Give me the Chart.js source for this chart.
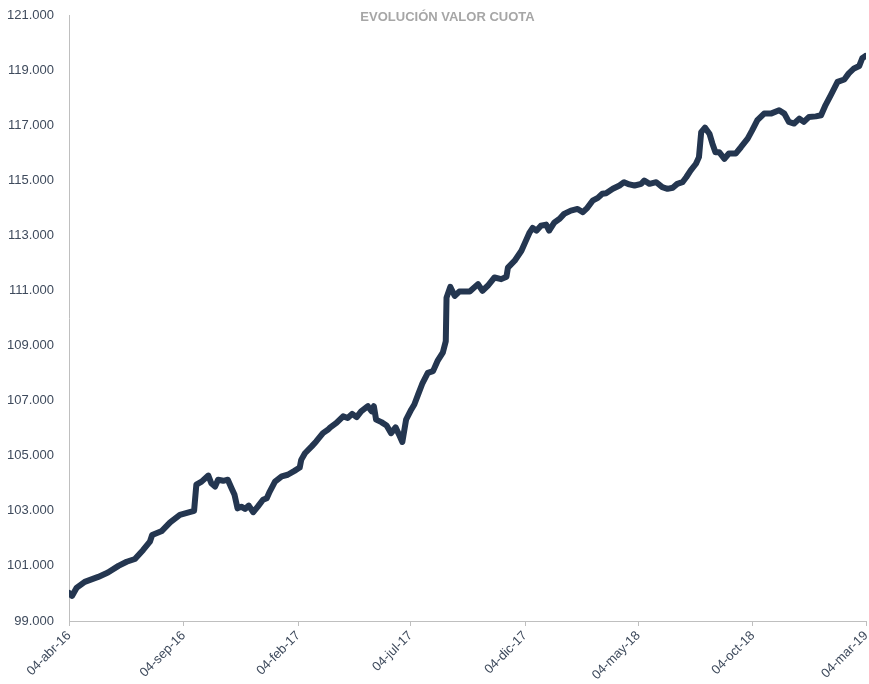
<!DOCTYPE html>
<html lang="es">
<head>
    <meta charset="UTF-8">
    <title>Evolución Valor Cuota</title>
    <script src="https://cdn.jsdelivr.net/npm/chart.js"></script>
    <style>
        html, body {
            margin: 0;
            padding: 0;
            background: #ffffff;
        }
        .wrap {
            width: 869px;
            height: 684px;
            position: relative;
        }
    </style>
</head>
<body>

<div class="wrap">
    <canvas id="cuotaChart"></canvas>
</div>

<script>
    // dias desde el 04-abr-16
    const dias = [
        0, 4, 10, 21, 39, 52, 66, 77, 88, 99, 108, 111, 124, 135, 148, 161, 167,
        170, 177, 186, 190, 195, 199, 206, 212, 217, 221, 225, 230, 235, 240, 246,
        252, 259, 264, 268, 275, 284, 292, 301, 308, 310, 315, 324, 330, 339, 346,
        348, 357, 366, 372, 378, 384, 390, 399, 404, 407, 410, 417, 424, 430, 436,
        441, 445, 450, 457, 461, 466, 472, 479, 486, 492, 499, 503, 504, 509, 515,
        521, 535, 546, 552, 559, 568, 577, 584, 586, 595, 604, 610, 615, 619, 624,
        630, 637, 641, 648, 655, 661, 670, 679, 686, 692, 699, 706, 712, 717, 726,
        735, 741, 748, 755, 764, 768, 775, 784, 792, 799, 806, 812, 819, 824, 830,
        837, 841, 844, 849, 855, 859, 863, 868, 875, 881, 890, 897, 906, 912, 919,
        928, 937, 948, 955, 961, 968, 975, 981, 988, 997, 1004, 1010, 1017, 1026,
        1035, 1041, 1048, 1055, 1059, 1063
    ];

    const valores = [
        100.02, 99.91, 100.20, 100.42, 100.60, 100.76, 101.00, 101.15, 101.25, 101.58, 101.88, 102.12, 102.27, 102.58, 102.85, 102.95, 103.00,
        103.95, 104.06, 104.28, 104.00, 103.88, 104.13, 104.09, 104.13, 103.82, 103.58, 103.09, 103.15, 103.07, 103.19, 102.95,
        103.15, 103.40, 103.46, 103.70, 104.06, 104.25, 104.31, 104.45, 104.57, 104.85, 105.09, 105.34, 105.52, 105.82, 105.95,
        106.01, 106.19, 106.43, 106.37, 106.52, 106.40, 106.61, 106.80, 106.61, 106.80, 106.31, 106.22, 106.10, 105.82, 106.03,
        105.74, 105.50, 106.31, 106.68, 106.86, 107.22, 107.64, 108.01, 108.07, 108.44, 108.74, 109.16, 110.74, 111.13, 110.80,
        110.96, 110.96, 111.23, 110.99, 111.17, 111.47, 111.41, 111.50, 111.83, 112.08, 112.44, 112.81, 113.11, 113.27, 113.17,
        113.35, 113.39, 113.17, 113.47, 113.60, 113.78, 113.90, 113.96, 113.84, 114.00, 114.26, 114.36, 114.51, 114.53, 114.69,
        114.81, 114.93, 114.85, 114.81, 114.87, 114.99, 114.87, 114.93, 114.75, 114.69, 114.73, 114.87, 114.93, 115.11, 115.36,
        115.60, 115.84, 116.75, 116.91, 116.69, 116.33, 116.02, 116.02, 115.78, 115.97, 115.97, 116.20, 116.51, 116.81, 117.18,
        117.42, 117.42, 117.54, 117.42, 117.12, 117.06, 117.24, 117.12, 117.30, 117.32, 117.36, 117.73, 118.09, 118.57,
        118.66, 118.88, 119.06, 119.15, 119.43, 119.51
    ];

    const tickDias = [0, 153, 306, 456, 609, 760, 913, 1064];
    const tickLabels = ['04-abr-16', '04-sep-16', '04-feb-17', '04-jul-17', '04-dic-17', '04-may-18', '04-oct-18', '04-mar-19'];

    const titulo = 'EVOLUCIÓN VALOR CUOTA';

    const puntos = dias.map((d, i) => ({ x: d, y: valores[i] }));

    // titulo dibujado dentro del area, como en el original
    const tituloPlugin = {
        id: 'tituloPlugin',
        afterDraw(chart) {
            const { ctx, chartArea } = chart;
            ctx.save();
            ctx.font = 'bold 13px "Liberation Sans", Arial, sans-serif';
            ctx.fillStyle = '#a6a6a6';
            ctx.textAlign = 'center';
            ctx.textBaseline = 'middle';
            ctx.fillText(titulo, (chartArea.left + chartArea.right) / 2 - 20, 17);
            ctx.restore();
        }
    };

    const ctx = document.getElementById('cuotaChart').getContext('2d');
    new Chart(ctx, {
        type: 'line',
        data: {
            datasets: [{
                data: puntos,
                borderColor: '#243650',
                borderWidth: 6,
                pointRadius: 0,
                pointHoverRadius: 0,
                tension: 0,
                borderJoinStyle: 'round',
                borderCapStyle: 'round',
                fill: false
            }]
        },
        options: {
            responsive: true,
            maintainAspectRatio: false,
            animation: false,
            layout: {
                autoPadding: false,
                padding: { top: 15, right: 3, left: 0, bottom: 0 }
            },
            plugins: {
                legend: { display: false },
                tooltip: { enabled: false },
                title: { display: false }
            },
            scales: {
                x: {
                    type: 'linear',
                    min: 0,
                    max: 1064,
                    afterBuildTicks: (scale) => {
                        scale.ticks = tickDias.map(v => ({ value: v }));
                    },
                    afterFit: (scale) => {
                        scale.height = 63;
                        scale.paddingRight = 0;
                    },
                    ticks: {
                        autoSkip: false,
                        minRotation: 45,
                        maxRotation: 45,
                        padding: 2,
                        color: '#3e4a5c',
                        font: { family: '"Liberation Sans", Arial, sans-serif', size: 13 },
                        callback: (value) => {
                            const i = tickDias.indexOf(value);
                            return i >= 0 ? tickLabels[i] : '';
                        }
                    },
                    grid: {
                        drawOnChartArea: false,
                        drawTicks: true,
                        tickLength: 5,
                        color: '#bfbfbf'
                    },
                    border: { display: true, color: '#bfbfbf', width: 1 }
                },
                y: {
                    min: 99,
                    max: 121,
                    afterFit: (scale) => {
                        scale.width = 69;
                        scale.paddingTop = 0;
                    },
                    ticks: {
                        stepSize: 2,
                        padding: 15,
                        color: '#3e4a5c',
                        font: { family: '"Liberation Sans", Arial, sans-serif', size: 13 },
                        callback: (value) => value.toFixed(3)
                    },
                    grid: {
                        drawOnChartArea: false,
                        drawTicks: false
                    },
                    border: { display: true, color: '#bfbfbf', width: 1 }
                }
            }
        },
        plugins: [tituloPlugin]
    });
</script>
</body>
</html>
